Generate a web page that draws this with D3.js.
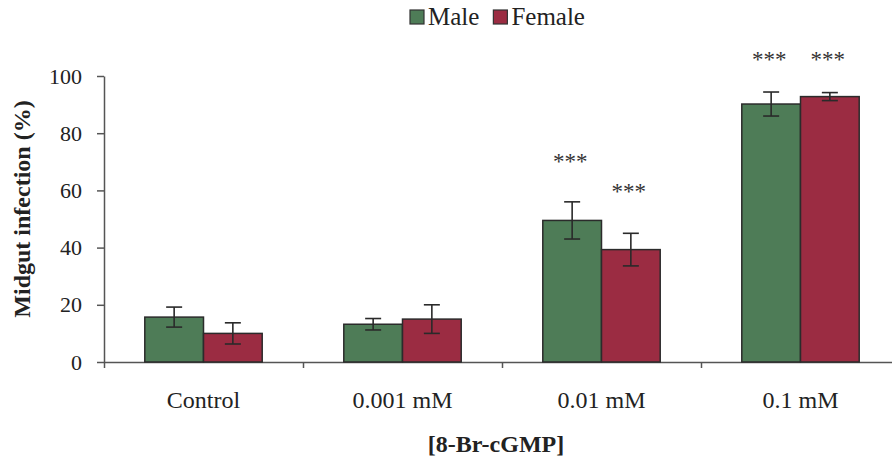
<!DOCTYPE html>
<html>
<head>
<meta charset="utf-8">
<script src="https://cdn.jsdelivr.net/npm/d3@7.9.0/dist/d3.min.js"></script>
<style>
  html, body { margin: 0; padding: 0; background: #fff; }
  svg { display: block; font-family: "Liberation Serif", "Times New Roman", serif; }
</style>
</head>
<body>
<svg id="chart" width="892" height="464"></svg>
<script>
// data
const categories = ['Control', '0.001 mM', '0.01 mM', '0.1 mM'];
const seriesNames = ['Male', 'Female'];
const maleMean = [15.7, 13.2, 49.5, 90.2];
const maleErr = [3.5, 2.0, 6.5, 4.2];
const femaleMean = [10.0, 15.0, 39.3, 92.8];
const femaleErr = [3.7, 5.0, 5.7, 1.4];
const maleStars = ['', '', '***', '***'];
const femaleStars = ['', '', '***', '***'];
// height (in % units) where the significance marks sit
const maleStarLevel = [null, null, 67.5, 103];
const femaleStarLevel = [null, null, 57, 103];
const yTicks = [0, 20, 40, 60, 80, 100];

const colors = { Male: '#4e7c57', Female: '#9b2c42' };

const svg = d3.select('#chart');
const margin = { left: 104, top: 76, bottom: 362 };

const y = d3.scaleLinear().domain([0, 100]).range([margin.bottom, margin.top]);
const x = d3.scaleBand().domain(categories).range([104, 900]);
const groupW = x.bandwidth() * 0.59;
const x1 = d3.scaleBand().domain(seriesNames).range([0, groupW]);

// rows per bar
let rows = [];
categories.forEach((c, i) => {
  rows.push({ cat: c, s: 'Male', mean: maleMean[i], err: maleErr[i], star: maleStars[i], lvl: maleStarLevel[i] });
  rows.push({ cat: c, s: 'Female', mean: femaleMean[i], err: femaleErr[i], star: femaleStars[i], lvl: femaleStarLevel[i] });
});
const barX = (d) => x(d.cat) + (x.bandwidth() - groupW) / 2 + x1(d.s);

// y axis
const yAxis = svg.append('g')
  .attr('transform', `translate(${margin.left},0)`)
  .call(d3.axisLeft(y).tickValues(yTicks).tickSize(7).tickSizeOuter(0).tickPadding(15));
yAxis.selectAll('text').attr('font-size', 22).attr('fill', '#222')
  .attr('font-family', '"Liberation Serif", serif');
yAxis.selectAll('line, path').attr('stroke', '#555').attr('stroke-width', 1.5);

// x axis (boundary ticks)
const xb = d3.scaleLinear().domain(x.range()).range(x.range());
const xAxis = svg.append('g')
  .attr('transform', `translate(0,${margin.bottom})`)
  .call(d3.axisBottom(xb).tickValues(categories.map((c) => x(c))).tickFormat('').tickSize(6).tickSizeOuter(0));
xAxis.selectAll('line, path').attr('stroke', '#555').attr('stroke-width', 1.5);

// bars
svg.append('g').selectAll('rect').data(rows).join('rect')
  .attr('x', barX)
  .attr('y', (d) => y(d.mean))
  .attr('width', x1.bandwidth())
  .attr('height', (d) => y(0) - y(d.mean))
  .attr('fill', (d) => colors[d.s])
  .attr('stroke', '#2b2b2b')
  .attr('stroke-width', 1.5);

// error bars
const eb = svg.append('g').attr('stroke', '#2a2a2a').attr('stroke-width', 1.6);
rows.forEach((d) => {
  const cx = barX(d) + x1.bandwidth() / 2;
  const top = y(d.mean + d.err), bot = y(d.mean - d.err);
  eb.append('line').attr('x1', cx).attr('x2', cx).attr('y1', top).attr('y2', bot);
  eb.append('line').attr('x1', cx - 8).attr('x2', cx + 8).attr('y1', top).attr('y2', top);
  eb.append('line').attr('x1', cx - 8).attr('x2', cx + 8).attr('y1', bot).attr('y2', bot);
});

// significance marks
svg.append('g').selectAll('text').data(rows.filter((d) => d.star)).join('text')
  .attr('x', (d) => barX(d) + x1.bandwidth() / 2 - 2)
  .attr('y', (d) => y(d.lvl))
  .attr('text-anchor', 'middle')
  .attr('font-size', 23)
  .attr('fill', '#333')
  .text((d) => d.star);

// category labels
svg.append('g').selectAll('text').data(categories).join('text')
  .attr('x', (d) => x(d) + x.bandwidth() / 2)
  .attr('y', 408)
  .attr('text-anchor', 'middle')
  .attr('font-size', 24)
  .attr('fill', '#222')
  .text((d) => d);

// axis titles
svg.append('text')
  .attr('x', 496).attr('y', 452)
  .attr('text-anchor', 'middle')
  .attr('font-size', 24).attr('font-weight', 'bold').attr('fill', '#222')
  .text('[8-Br-cGMP]');

svg.append('text')
  .attr('transform', 'translate(30,209) rotate(-90)')
  .attr('text-anchor', 'middle')
  .attr('font-size', 24).attr('font-weight', 'bold').attr('fill', '#222')
  .text('Midgut infection (%)');

// legend
const legend = svg.append('g');
let lx = 410;
seriesNames.forEach((s) => {
  legend.append('rect')
    .attr('x', lx).attr('y', 10).attr('width', 14).attr('height', 14)
    .attr('fill', colors[s]).attr('stroke', '#333').attr('stroke-width', 1.2);
  const t = legend.append('text')
    .attr('x', lx + 18).attr('y', 25)
    .attr('font-size', 25).attr('fill', '#222')
    .text(s);
  lx += 18 + t.node().getComputedTextLength() + 14;
});
</script>
</body>
</html>
